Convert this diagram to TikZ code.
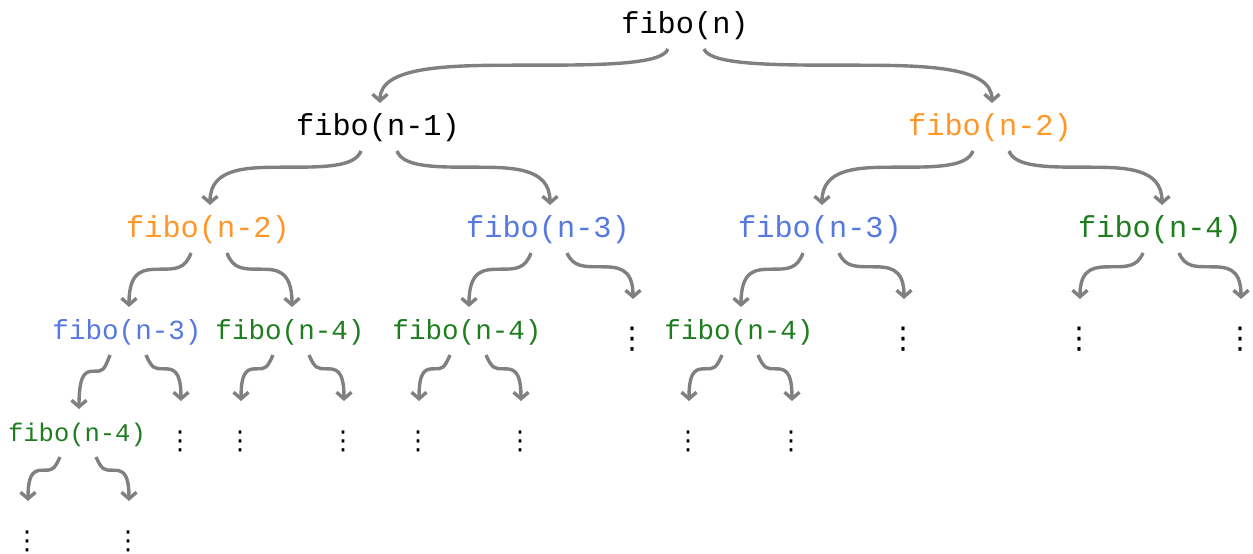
\documentclass[tikz,border=0pt]{standalone}
\usepackage{fontspec}
\newfontfamily\courfont{Liberation Mono}
\newfontfamily\dotfont{DejaVu Sans}
\usetikzlibrary{calc,arrows.meta}
\definecolor{forange}{RGB}{255,150,40}
\definecolor{fblue}{RGB}{85,120,225}
\definecolor{fgreen}{RGB}{30,125,30}
\definecolor{fgray}{RGB}{128,128,128}
\tikzset{
  lvA/.style={anchor=base, inner sep=0pt, font=\courfont\fontsize{30.3}{36}\selectfont},
  lvB/.style={anchor=base, inner sep=0pt, font=\courfont\fontsize{27.6}{33}\selectfont},
  lvC/.style={anchor=base, inner sep=0pt, font=\courfont\fontsize{25.5}{30}\selectfont},
  dotsA/.style={anchor=center, inner sep=0pt, font=\dotfont\fontsize{30}{30}\selectfont},
  dotsB/.style={anchor=center, inner sep=0pt, font=\dotfont\fontsize{26}{26}\selectfont},
  farr/.style={draw=fgray, line width=3.4pt, -{Straight Barb[length=6.5pt,width=15pt]},
    to path={let \p1=(\tikztostart), \p2=(\tikztotarget),
      \n1={sign(\x2-\x1)}, \n2={\y1+0.3*(\y2-\y1)}, \n3={0.5*(\x1+\x2)} in
      .. controls ({\x1+6pt*(\n1)},\n2) and ({\x1+0.25*(\x2-\x1)},\n2) .. (\n3,\n2)
      .. controls ({\x1+0.75*(\x2-\x1)},\n2) and (\x2,\n2) .. (\tikztotarget)}},
  sl/.style={xshift=-17pt,yshift=-15pt},
  sr/.style={xshift=19pt,yshift=-15pt},
  et/.style={xshift=2pt,yshift=33pt},
  ed/.style={xshift=1pt,yshift=40pt}
}
\begin{document}
\begin{tikzpicture}[x=1pt,y=-1pt,shift={(0,-554)}]
\useasboundingbox (0,0) rectangle (1253,554);
% level 0
\node[lvA] (n0) at (685,34) {fibo(n)};
% level 1
\node[lvA] (n1) at (378,136) {fibo(n-1)};
\node[lvA,text=forange] (n2) at (990,136) {fibo(n-2)};
% level 2
\node[lvA,text=forange] (n11) at (208,238) {fibo(n-2)};
\node[lvA,text=fblue] (n12) at (548,238) {fibo(n-3)};
\node[lvA,text=fblue] (n21) at (820,238) {fibo(n-3)};
\node[lvA,text=fgreen] (n22) at (1160,238) {fibo(n-4)};
% level 3
\node[lvB,text=fblue] (n111) at (127,340) {fibo(n-3)};
\node[lvB,text=fgreen] (n112) at (290,340) {fibo(n-4)};
\node[lvB,text=fgreen] (n121) at (467,340) {fibo(n-4)};
\node[dotsA] (d122) at (632,339) {⋮};
\node[lvB,text=fgreen] (n211) at (739,340) {fibo(n-4)};
\node[dotsA] (d212) at (903,339) {⋮};
\node[dotsA] (d221) at (1079,339) {⋮};
\node[dotsA] (d222) at (1240,339) {⋮};
% level 4
\node[lvC,text=fgreen] (n1111) at (77,442) {fibo(n-4)};
\node[dotsB] (d1112) at (180,441) {⋮};
\node[dotsB] (d1121) at (240,441) {⋮};
\node[dotsB] (d1122) at (343,441) {⋮};
\node[dotsB] (d1211) at (418,441) {⋮};
\node[dotsB] (d1212) at (520,441) {⋮};
\node[dotsB] (d2111) at (688,441) {⋮};
\node[dotsB] (d2112) at (791,441) {⋮};
% level 5
\node[dotsB] (d11111) at (27,541) {⋮};
\node[dotsB] (d11112) at (128,541) {⋮};
% arrows
\draw[farr] ([sl]n0.base) to ([et]n1.base);
\draw[farr] ([sr]n0.base) to ([et]n2.base);
\draw[farr] ([sl]n1.base) to ([et]n11.base);
\draw[farr] ([sr]n1.base) to ([et]n12.base);
\draw[farr] ([sl]n2.base) to ([et]n21.base);
\draw[farr] ([sr]n2.base) to ([et]n22.base);
\draw[farr] ([sl]n11.base) to ([et]n111.base);
\draw[farr] ([sr]n11.base) to ([et]n112.base);
\draw[farr] ([sl]n12.base) to ([et]n121.base);
\draw[farr] ([sr]n12.base) to ([ed]d122.center);
\draw[farr] ([sl]n21.base) to ([et]n211.base);
\draw[farr] ([sr]n21.base) to ([ed]d212.center);
\draw[farr] ([sl]n22.base) to ([ed]d221.center);
\draw[farr] ([sr]n22.base) to ([ed]d222.center);
\draw[farr] ([sl]n111.base) to ([et]n1111.base);
\draw[farr] ([sr]n111.base) to ([ed]d1112.center);
\draw[farr] ([sl]n112.base) to ([ed]d1121.center);
\draw[farr] ([sr]n112.base) to ([ed]d1122.center);
\draw[farr] ([sl]n121.base) to ([ed]d1211.center);
\draw[farr] ([sr]n121.base) to ([ed]d1212.center);
\draw[farr] ([sl]n211.base) to ([ed]d2111.center);
\draw[farr] ([sr]n211.base) to ([ed]d2112.center);
\draw[farr] ([sl]n1111.base) to ([ed]d11111.center);
\draw[farr] ([sr]n1111.base) to ([ed]d11112.center);
\end{tikzpicture}
\end{document}
